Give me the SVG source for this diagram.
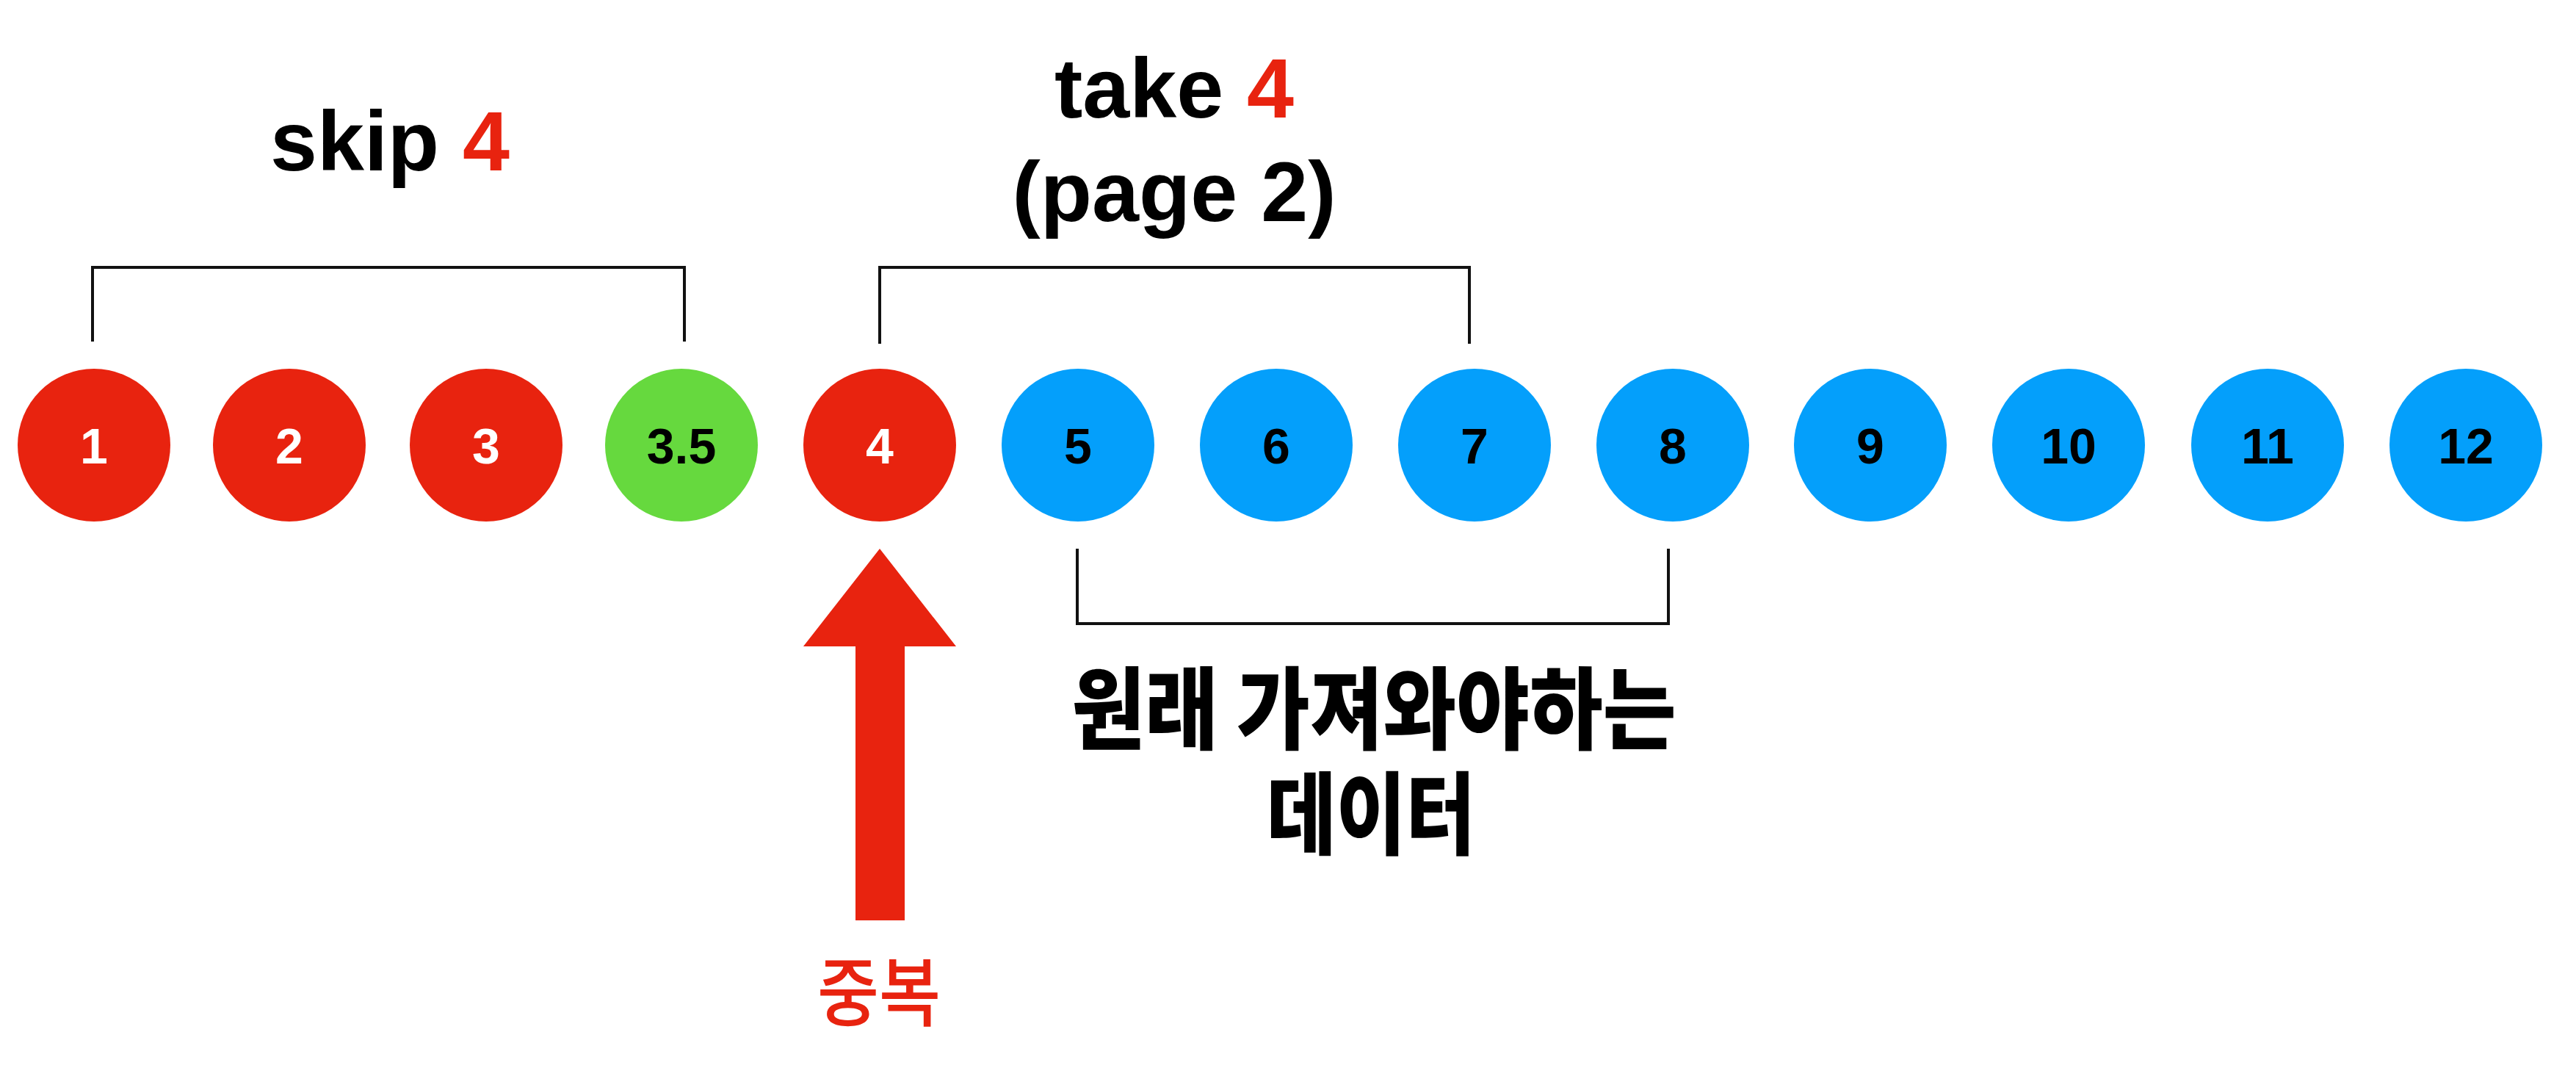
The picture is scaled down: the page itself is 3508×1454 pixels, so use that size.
<svg xmlns="http://www.w3.org/2000/svg" width="3508" height="1454" viewBox="0 0 3508 1454">
<style>
.red{fill:#E8230F}
.green{fill:#66D93E}
.blue{fill:#049FFB}
.num{font-family:"Liberation Sans",Arial,sans-serif;font-weight:bold;font-size:68px;text-anchor:middle}
.w{fill:#FFFFFF}
.k{fill:#000000}
.title{font-family:"Liberation Sans",Arial,sans-serif;font-weight:bold;font-size:115px;text-anchor:middle;fill:#000}
.ko{font-family:"Noto Sans CJK KR","Noto Sans CJK SC",sans-serif;text-anchor:middle}
.br{fill:none;stroke:#111;stroke-width:4}
</style>
<rect width="3508" height="1454" fill="#FFFFFF"/>
<g id="title-skip"><text class="title" x="531" y="232">skip <tspan fill="#E8230F">4</tspan></text></g>
<g id="title-take"><text class="title" x="1599" y="160">take <tspan fill="#E8230F">4</tspan></text><text class="title" x="1599" y="301">(page 2)</text></g>
<g id="n1"><circle class="red" cx="128" cy="606" r="104"/><text class="num w" x="128" y="631">1</text></g>
<g id="n2"><circle class="red" cx="394" cy="606" r="104"/><text class="num w" x="394" y="631">2</text></g>
<g id="n3"><circle class="red" cx="662" cy="606" r="104"/><text class="num w" x="662" y="631">3</text></g>
<g id="n3_5"><circle class="green" cx="928" cy="606" r="104"/><text class="num k" x="928" y="631">3.5</text></g>
<g id="n4"><circle class="red" cx="1198" cy="606" r="104"/><text class="num w" x="1198" y="631">4</text></g>
<g id="n5"><circle class="blue" cx="1468" cy="606" r="104"/><text class="num k" x="1468" y="631">5</text></g>
<g id="n6"><circle class="blue" cx="1738" cy="606" r="104"/><text class="num k" x="1738" y="631">6</text></g>
<g id="n7"><circle class="blue" cx="2008" cy="606" r="104"/><text class="num k" x="2008" y="631">7</text></g>
<g id="n8"><circle class="blue" cx="2278" cy="606" r="104"/><text class="num k" x="2278" y="631">8</text></g>
<g id="n9"><circle class="blue" cx="2547" cy="606" r="104"/><text class="num k" x="2547" y="631">9</text></g>
<g id="n10"><circle class="blue" cx="2817" cy="606" r="104"/><text class="num k" x="2817" y="631">10</text></g>
<g id="n11"><circle class="blue" cx="3088" cy="606" r="104"/><text class="num k" x="3088" y="631">11</text></g>
<g id="n12"><circle class="blue" cx="3358" cy="606" r="104"/><text class="num k" x="3358" y="631">12</text></g>
<g id="connectors">
<path class="br" d="M126 465 V364 H932 V465"/>
<path class="br" d="M1198 468 V364 H2001 V468"/>
<path class="br" d="M1467 747 V849 H2272 V747"/>
<polygon class="red" points="1198,747 1302,880 1232,880 1232,1253 1165,1253 1165,880 1094,880"/>
</g>
<g id="label-original"><text class="ko" x="1871" y="1010" font-size="122" font-weight="900" textLength="823" lengthAdjust="spacingAndGlyphs">원래 가져와야하는</text><text class="ko" x="1867" y="1153" font-size="122" font-weight="900" textLength="284" lengthAdjust="spacingAndGlyphs">데이터</text></g>
<g id="label-dup"><text class="ko" x="1197" y="1389" font-size="102" font-weight="500" fill="#E8230F" textLength="168" lengthAdjust="spacingAndGlyphs">중복</text></g>
</svg>
